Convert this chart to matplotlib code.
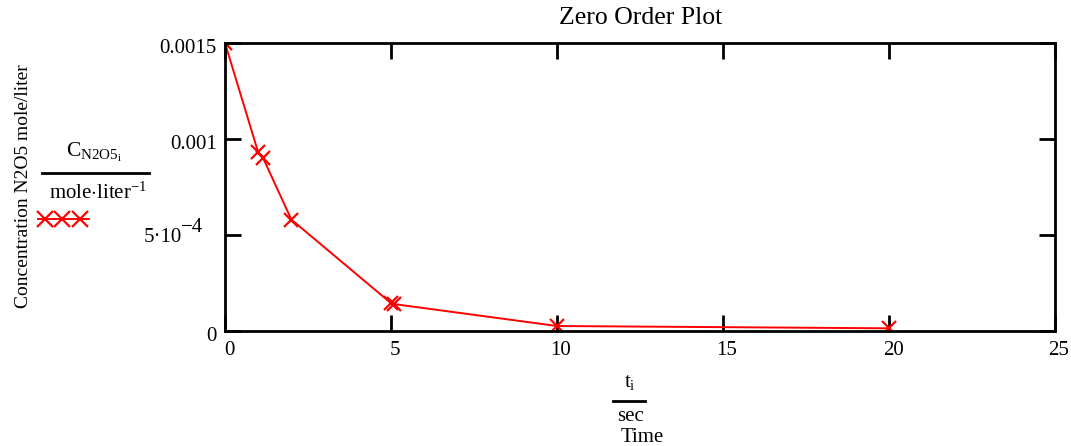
import matplotlib
matplotlib.use("Agg")
import matplotlib.pyplot as plt
from matplotlib.lines import Line2D
from matplotlib.transforms import ScaledTranslation

plt.rcParams['font.family'] = ['Liberation Serif', 'DejaVu Serif']
plt.rcParams['mathtext.fontset'] = 'custom'
plt.rcParams['mathtext.rm'] = 'Liberation Serif'
plt.rcParams['mathtext.it'] = 'Liberation Serif:italic'

# data
t_sec = [0, 1, 1.15, 2, 5, 5.1, 10, 20]
conc = [0.0015, 0.00093, 0.0009, 0.00058, 0.000145, 0.00014, 0.000026, 0.000014]
x_ticks = [0, 5, 10, 15, 20, 25]
y_ticks = [0, 0.0005, 0.001, 0.0015]
y_tick_labels = ['0', '', '0.001', '0.0015']
title = 'Zero Order Plot'
y_label = 'Concentration N2O5 mole/liter'

W, H = 1071, 446
fig = plt.figure(figsize=(W / 100, H / 100), dpi=100)
ax = fig.add_axes([225 / W, 1 - 331 / H, (1055 - 225) / W, (331 - 43) / H])

ax.plot(t_sec, conc, color='#ff0000', lw=1.4, marker='x', ms=10, mew=1.6, clip_on=True)
ax.set_xlim(0, 25)
ax.set_ylim(0, 0.0015)
ax.set_xticks(x_ticks)
ax.set_xticklabels([str(v) for v in x_ticks])
ax.set_yticks(y_ticks)
ax.set_yticklabels(y_tick_labels)
ax.tick_params(direction='in', length=11.5, width=2, labelsize=15, color='black',
               top=True, right=True)
ax.tick_params(axis='y', pad=6)
ax.tick_params(axis='x', pad=7)
for s in ax.spines.values():
    s.set_linewidth(2)

dx = ScaledTranslation(4 / 100, 0, fig.dpi_scale_trans)
for lab in ax.get_xticklabels():
    lab.set_transform(lab.get_transform() + dx)
dy = ScaledTranslation(0, -3 / 100, fig.dpi_scale_trans)
for lab in ax.get_yticklabels():
    lab.set_transform(lab.get_transform() + dy)

# Mathcad-style 5·10^-4 label
ax.annotate('5·10', xy=(0, 0.0005), xycoords=('axes fraction', 'data'),
            xytext=(-43, -3), textcoords='offset pixels', ha='right', va='center', fontsize=15)
ax.annotate('\u22124', xy=(0, 0.0005), xycoords=('axes fraction', 'data'),
            xytext=(-22, 8), textcoords='offset pixels', ha='right', va='center', fontsize=15)

fig.text(641 / W, 1 - 18 / H, title, ha='center', va='center', fontsize=18.5)
fig.text(24 / W, 1 - 186 / H, y_label, ha='center', va='center', rotation=90, fontsize=14)

# y "axis label" as Mathcad fraction
fig.text(94 / W, 1 - 152 / H, r'$\mathrm{C}_{\mathrm{N2O5}_{\mathrm{i}}}$', ha='center', va='center', fontsize=15.5)
fig.add_artist(Line2D([42 / W, 149 / W], [1 - 173 / H, 1 - 173 / H], color='black', lw=2))
fig.text(98 / W, 1 - 193 / H, r'$\mathrm{mole{\cdot}liter}^{-1}$', ha='center', va='center', fontsize=15)
fig.add_artist(Line2D([38 / W, 45 / W, 62 / W, 80 / W, 89 / W], [1 - 219 / H] * 5, color='#ff0000',
                      lw=1.4, marker='x', ms=11, mew=1.6, markevery=[1, 2, 3]))

# x label fraction
fig.text(630 / W, 1 - 383 / H, r'$\mathrm{t}_{\mathrm{i}}$', ha='center', va='center', fontsize=15)
fig.add_artist(Line2D([613 / W, 645 / W], [1 - 401 / H] * 2, color='black', lw=2))
fig.text(631 / W, 1 - 421 / H, 'sec', ha='center', va='baseline', fontsize=15)
fig.text(642 / W, 1 - 442 / H, 'Time', ha='center', va='baseline', fontsize=15)

fig.savefig('out.png', dpi=100)
